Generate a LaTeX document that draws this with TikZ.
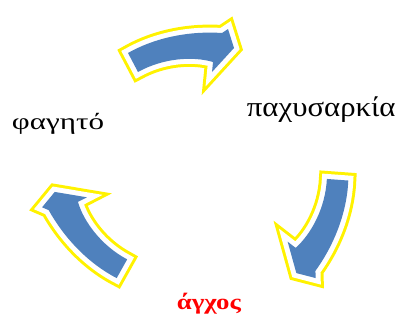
\documentclass[tikz,border=0pt]{standalone}
\usepackage{fontspec}
\setmainfont{Liberation Serif}

% outline of one bent block arrow, tail centre at the origin
\newcommand{\bendshape}{(-5,-9) .. controls (25,-26) and (60,-31) .. (89,-29)
	-- (95,-33) -- (101,-14) -- (79,10) -- (80,0)
	.. controls (60,-6) and (30,-4) .. (5,10) -- cycle}

\definecolor{arrowblue}{RGB}{79,129,189}

\begin{document}
\begin{tikzpicture}[x=1pt,y=-1pt,
		word/.style={anchor=base west, inner sep=0pt},
		cyclearrow/.pic={
			\draw[yellow, line width=16pt, line join=miter] \bendshape;
			\draw[white, line width=10pt, line join=miter] \bendshape;
			\fill[arrowblue] \bendshape;
		}]
	\useasboundingbox (0,0) rectangle (403,322);

	% Words of the cycle
	\node[word, xscale=1.35, font=\fontsize{23}{26}\selectfont] (food) at (11.7,129) {φαγητό};
	\node[word, xscale=1.1, font=\fontsize{28}{32}\selectfont] (obesity) at (246.7,116.7) {παχυσαρκία};
	\node[word, xscale=1.22, font=\fontsize{22}{26}\selectfont\bfseries, text=red] (stress) at (176.7,309) {άγχος};

	% Arrows between them
	\pic at (133,62) {cyclearrow};
	\pic[rotate=-122] at (338,180) {cyclearrow};
	\pic[rotate=123] at (121.5,269) {cyclearrow};
\end{tikzpicture}
\end{document}
